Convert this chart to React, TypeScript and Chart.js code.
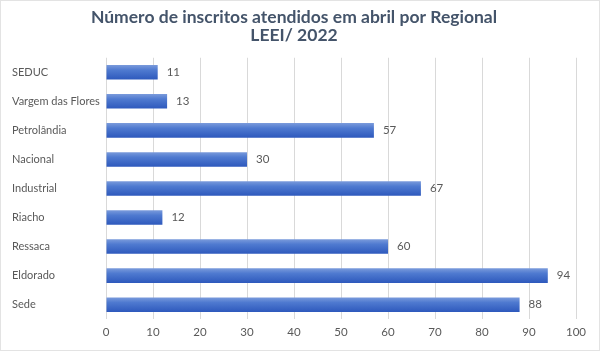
import React, { useEffect, useRef } from "react";
import { Chart, registerables } from "chart.js";

Chart.register(...registerables);

const categories = ["SEDUC", "Vargem das Flores", "Petrolândia", "Nacional", "Industrial", "Riacho", "Ressaca", "Eldorado", "Sede"];
const values = [11, 13, 57, 30, 67, 12, 60, 94, 88];
const titleLines = ["Número de inscritos atendidos em abril por Regional", "LEEI/ 2022"];
const xMin = 0;
const xMax = 100;
const xStep = 10;

const FONT = "Lato, 'Open Sans', sans-serif";

const labelPlugin = {
  id: "valueLabels",
  afterDatasetsDraw(chart: any) {
    const ctx = chart.ctx;
    const meta = chart.getDatasetMeta(0);
    ctx.save();
    ctx.fillStyle = "#595959";
    ctx.font = `11.5px ${FONT}`;
    ctx.textAlign = "left";
    ctx.textBaseline = "middle";
    meta.data.forEach((el: any, i: number) => {
      ctx.fillText(String(values[i]), el.x + 9, el.y);
    });
    ctx.restore();
  },
};

const borderPlugin = {
  id: "outerBorder",
  afterDraw(chart: any) {
    const ctx = chart.ctx;
    ctx.save();
    ctx.strokeStyle = "#E3E3E3";
    ctx.lineWidth = 1;
    ctx.strokeRect(0.5, 0.5, chart.width - 1, chart.height - 1);
    ctx.restore();
  },
};

export default function App() {
  const ref = useRef<HTMLCanvasElement>(null);
  useEffect(() => {
    if (!ref.current) return;
    const chart = new Chart(ref.current, {
      type: "bar",
      data: {
        labels: categories,
        datasets: [
          {
            data: values,
            backgroundColor: (c: any) => {
              const ch = c.chart;
              const y = ch.scales?.y;
              if (!y || c.dataIndex === undefined) return "#4472C4";
              const cy = y.getPixelForValue(c.dataIndex);
              if (!Number.isFinite(cy)) return "#4472C4";
              const h = 7.5;
              const g = ch.ctx.createLinearGradient(0, cy - h, 0, cy + h);
              g.addColorStop(0, "#7C9CDC");
              g.addColorStop(0.35, "#4F7AD0");
              g.addColorStop(1, "#2D58BC");
              return g;
            },
            barPercentage: 1,
            categoryPercentage: 0.5,
          },
        ],
      },
      options: {
        indexAxis: "y",
        animation: false,
        responsive: false,
        maintainAspectRatio: false,
        layout: { padding: { left: 12, right: 24, top: 8, bottom: 6 } },
        plugins: {
          legend: { display: false },
          tooltip: { enabled: false },
          title: {
            display: true,
            text: titleLines,
            color: "#44546A",
            font: { family: FONT, size: 17.5, weight: "bold", lineHeight: 1.05 },
            padding: { top: 0, bottom: 13 },
          },
        },
        scales: {
          x: {
            min: xMin,
            max: xMax,
            ticks: { stepSize: xStep, color: "#595959", font: { family: FONT, size: 11.5 }, padding: 6 },
            grid: { color: "#D9D9D9", drawTicks: false },
            border: { display: false },
          },
          y: {
            ticks: {
              color: "#595959",
              font: { family: FONT, size: 11 },
              crossAlign: "far",
              padding: 6,
            },
            grid: { display: false, drawTicks: false },
            border: { display: false },
            afterFit: (s: any) => {
              s.width = 94;
            },
          },
        },
      },
      plugins: [labelPlugin, borderPlugin],
    } as any);
    return () => chart.destroy();
  }, []);
  return (
    <div style={{ position: "absolute", left: 0, top: 0, width: 600, height: 351, background: "#fff" }}>
      <canvas ref={ref} width={600} height={351} />
    </div>
  );
}
